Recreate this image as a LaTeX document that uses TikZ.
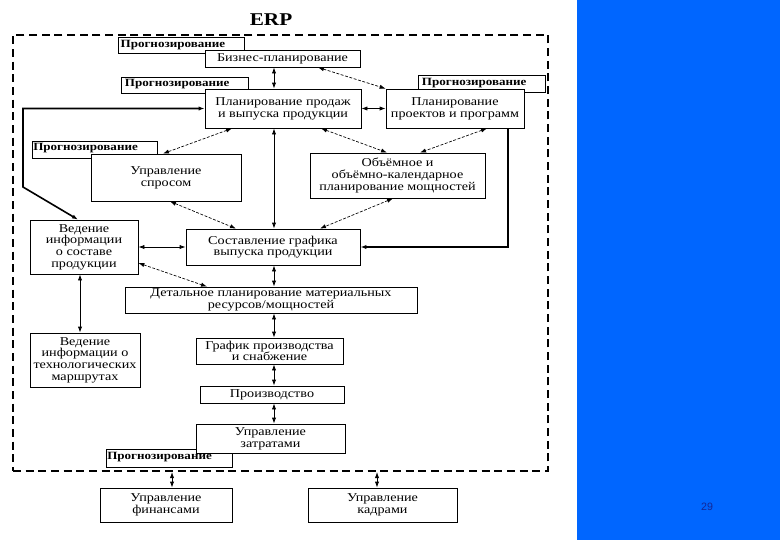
\documentclass[tikz,border=0pt]{standalone}
\usepackage{fontspec}
\setmainfont[FakeStretch=1.18]{Liberation Serif}
\newfontfamily\pnfont{Liberation Sans}
\usetikzlibrary{arrows.meta}
\definecolor{panelblue}{RGB}{0,102,255}
\definecolor{pnblue}{RGB}{20,40,150}
\tikzset{
  rect/.style args={#1/#2/#3/#4}{minimum width={(#3-#1)*0.75pt}, minimum height={(#4-#2)*0.75pt},
    at={({(#1+#3)/2},{(#2+#4)/2})}},
  box/.style={draw, line width=0.6pt, fill=white, inner sep=0pt, align=center,
    font=\fontsize{9}{8.8}\selectfont, rect=#1},
  pbox/.style={draw, line width=0.5pt, fill=white, inner sep=0pt, rect=#1},
  ptext/.style={anchor=west, inner sep=0pt, font=\fontsize{8.3}{8.3}\selectfont\bfseries},
  frame/.style={draw, line width=1.5pt, dash pattern=on 6pt off 3.5pt, inner sep=0pt, rect=#1},
  tip/.tip={Latex[length=4.5pt,width=3.2pt]},
  dbl/.style={line width=0.6pt, tip-tip},
  ddbl/.style={line width=0.5pt, dash pattern=on 2.2pt off 1.2pt, tip-tip},
  thk/.style={line width=1.2pt},
}
\begin{document}
\begin{tikzpicture}[x=0.75pt,y=-0.75pt]
\useasboundingbox (0,0) rectangle (780,540);
\fill[white] (0,0) rectangle (780,540);
\fill[panelblue] (577,0) rectangle (780,540);
\node[font=\fontsize{8}{8}\selectfont\pnfont, text=pnblue] (pn) at (707,507) {29};

\node[font=\fontsize{13.5}{13.5}\selectfont\bfseries] (erp) at (271,20) {ERP};

\node[frame=13/35/548/471] (fr) {};

% forecasting tabs
\node[pbox=118/37/244/53] (p1) {};
\node[ptext] (p1t) at ([xshift=2pt]p1.west) {Прогнозирование};
\node[pbox=121/77/248/93] (p2) {};
\node[ptext] (p2t) at ([xshift=3pt,yshift=1pt]p2.west) {Прогнозирование};
\node[pbox=418/75/545/92] (p3) {};
\node[ptext] (p3t) at ([xshift=3pt]p3.west) {Прогнозирование};
\node[pbox=32/141/157/158] (p4) {};
\node[ptext] (p4t) at ([xshift=1pt,yshift=1pt]p4.west) {Прогнозирование};
\node[pbox=106/449/232/467] (p5) {};
\node[ptext] (p5t) at ([xshift=1pt,yshift=0.5pt]p5.west) {Прогнозирование};

% main boxes
\node[box=205/50/360/67] (BP) {Бизнес-планирование};
\node[box=205/89/361/128] (PP) {Планирование продаж\\и выпуска продукции};
\node[box=386/89/524/128] (PR) {Планирование\\проектов и программ};
\node[box=91/154/241/201] (US) {Управление\\спросом};
\node[box=310/153/485/198] (OB) {Объёмное и\\объёмно-календарное\\планирование мощностей};
\node[box=30/220/138/274] (VS) {Ведение\\информации\\о составе\\продукции};
\node[box=186/229/360/265] (SG) {Составление графика\\выпуска продукции};
\node[box=125/287/417/313] (DP) {Детальное планирование материальных\\ресурсов/мощностей};
\node[box=30/333/140/387] (VT) {Ведение\\информации о\\технологических\\маршрутах};
\node[box=196/338/343/364] (GP) {График производства\\и снабжение};
\node[box=200/386/344/403] (PD) {Производство};
\node[box=196/424/345/453] (UZ) {Управление\\затратами};
\node[box=100/488/232/522] (UF) {Управление\\финансами};
\node[box=308/488/457/522] (UK) {Управление\\кадрами};

% helper coordinates
\coordinate (cx) at (274,0);
\coordinate (l1) at (23,108.5);
\coordinate (l2) at (23,187);

% vertical spine
\draw[dbl] (BP.south -| cx) -- (PP.north -| cx);
\draw[dbl] (PP.south -| cx) -- (SG.north -| cx);
\draw[dbl] (SG.south -| cx) -- (DP.north -| cx);
\draw[dbl] (DP.south -| cx) -- (GP.north -| cx);
\draw[dbl] (GP.south -| cx) -- (PD.north -| cx);
\draw[dbl] (PD.south -| cx) -- (UZ.north -| cx);

% horizontals
\draw[dbl] (PP.east) -- (PR.west);
\draw[dbl] (VS.east |- 0,247) -- (SG.west |- 0,247);
\draw[dbl] (VS.south -| 80,0) -- (VT.north -| 80,0);

% diagonals
\draw[ddbl] (BP.south -| 318,0) -- (PR.north west);
\draw[ddbl] (PP.south -| 232,0) -- (US.north -| 163,0);
\draw[ddbl] (PP.south -| 321,0) -- (OB.north -| 387,0);
\draw[ddbl] (PR.south -| 487,0) -- (OB.north -| 420,0);
\draw[ddbl] (US.south -| 170,0) -- (SG.north -| 236,0);
\draw[ddbl] (OB.south -| 393,0) -- (SG.north -| 320,0);
\draw[ddbl] (VS.east |- 0,263) -- (DP.north -| 207,0);

% thick routes
\draw[thk, tip-tip] (PP.west) -- (l1) -- (l2) -- (VS.north -| 78,0);
\draw[thk, -tip] (PR.south -| 508,0) |- (SG.east);

% outside frame
\draw[dbl] (fr.south -| 172,0) -- (UF.north -| 172,0);
\draw[dbl] (fr.south -| 377,0) -- (UK.north -| 377,0);
\end{tikzpicture}
\end{document}
